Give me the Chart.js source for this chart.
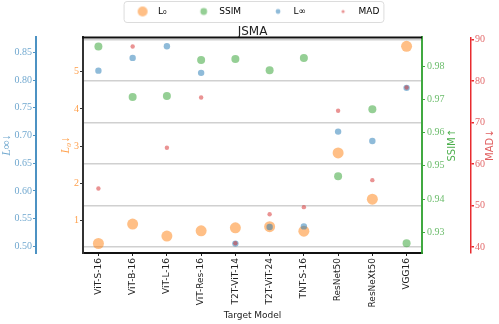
<!DOCTYPE html>
<html>
<head>
<meta charset="utf-8">
<script src="https://cdn.jsdelivr.net/npm/chart.js@4.4.0/dist/chart.umd.min.js"></script>
<style>
  html, body { margin: 0; padding: 0; background: #fff; }
</style>
</head>
<body>
<canvas id="myChart" width="499" height="324"></canvas>
<script>
// target models (x axis)
const models = ['ViT-S-16', 'ViT-B-16', 'ViT-L-16', 'ViT-Res-16', 'T2T-ViT-14',
  'T2T-ViT-24', 'TNT-S-16', 'ResNet50', 'ResNeXt50', 'VGG16'];

// values, one list per metric
const l0Vals   = [0.39, 0.91, 0.59, 0.73, 0.81, 0.84, 0.72, 2.82, 1.58, 5.68];
const ssimVals = [0.9859, 0.9707, 0.9710, 0.9818, 0.9821, 0.9787, 0.9824, 0.9469, 0.9670, 0.9267];
const linfVals = [0.817, 0.840, 0.861, 0.813, 0.505, 0.535, 0.536, 0.707, 0.690, 0.786];
const madVals  = [54.1, 88.3, 63.9, 76.0, 40.9, 47.9, 49.6, 72.8, 56.1, 78.4];

// tick labels per axis
const l0Ticks   = [1, 2, 3, 4, 5];
const linfTicks = [0.50, 0.55, 0.60, 0.65, 0.70, 0.75, 0.80, 0.85];
const ssimTicks = [0.93, 0.94, 0.95, 0.96, 0.97, 0.98];
const madTicks  = [40, 50, 60, 70, 80, 90];

Chart.defaults.font.family = "'DejaVu Sans', sans-serif";

const toPoints = vals => vals.map((v, i) => ({ x: i, y: v }));
const fixedTicks = list => scale => { scale.ticks = list.map(v => ({ value: v })); };

const numFont = { family: "'Liberation Serif', serif", size: 10 };
const mathFont = { family: "'Liberation Serif', 'DejaVu Serif', serif", style: 'italic', size: 12 };

// little dots for the legend, drawn at the right of a wide box
function legendDot(color, r) {
  const c = document.createElement('canvas');
  c.width = 44; c.height = 14;
  const g = c.getContext('2d');
  g.fillStyle = color;
  g.beginPath();
  g.arc(33, 7, r, 0, Math.PI * 2);
  g.fill();
  return c;
}

const colors = {
  l0: 'rgba(255,127,14,0.5)',
  ssim: 'rgba(44,160,44,0.5)',
  linf: 'rgba(31,119,180,0.5)',
  mad: 'rgba(214,39,40,0.5)'
};
const legendDots = [
  legendDot(colors.l0, 5),
  legendDot(colors.ssim, 3.4),
  legendDot(colors.linf, 2.4),
  legendDot(colors.mad, 1.6)
];

// top spine + legend frame
const framePlugin = {
  id: 'framePlugin',
  afterDraw(chart) {
    const ctx = chart.ctx, a = chart.chartArea;
    ctx.save();
    ctx.strokeStyle = '#111';
    ctx.lineWidth = 2;
    ctx.beginPath();
    ctx.moveTo(a.left - 1, a.top);
    ctx.lineTo(a.right, a.top);
    ctx.stroke();

    const hb = chart.legend.legendHitBoxes;
    if (hb && hb.length) {
      const first = hb[0], last = hb[hb.length - 1];
      const x0 = first.left + 14, x1 = last.left + last.width + 4;
      const y0 = first.top - 6, y1 = first.top + first.height + 6;
      ctx.strokeStyle = '#dcdcdc';
      ctx.lineWidth = 1;
      ctx.beginPath();
      if (ctx.roundRect) ctx.roundRect(x0 + 0.5, y0 + 0.5, x1 - x0, y1 - y0, 3);
      else ctx.rect(x0 + 0.5, y0 + 0.5, x1 - x0, y1 - y0);
      ctx.stroke();
    }
    ctx.restore();
  }
};

// right hand titles read bottom-to-top like the left ones
const sideTitles = {
  id: 'sideTitles',
  afterDraw(chart) {
    const ctx = chart.ctx, a = chart.chartArea;
    [['ySsim', 30], ['yMad', 19]].forEach(([id, off]) => {
      const s = chart.scales[id];
      const t = s.options.title;
      ctx.save();
      ctx.translate(s.left + off, (a.top + a.bottom) / 2);
      ctx.rotate(-Math.PI / 2);
      ctx.fillStyle = t.color;
      ctx.font = "10px 'DejaVu Sans', sans-serif";
      ctx.textAlign = 'center';
      ctx.textBaseline = 'middle';
      ctx.fillText(t.text, 0, 0);
      ctx.restore();
    });
  }
};

const ctx = document.getElementById('myChart');

new Chart(ctx, {
  type: 'scatter',
  data: {
    datasets: [
      { label: 'L₀', data: toPoints(l0Vals), yAxisID: 'yL0', backgroundColor: colors.l0,
        pointRadius: 5.5, pointHoverRadius: 5.5, borderWidth: 0, order: 4 },
      { label: 'SSIM', data: toPoints(ssimVals), yAxisID: 'ySsim', backgroundColor: colors.ssim,
        pointRadius: 4, pointHoverRadius: 4, borderWidth: 0, order: 3 },
      { label: 'L∞', data: toPoints(linfVals), yAxisID: 'yLinf', backgroundColor: colors.linf,
        pointRadius: 3.2, pointHoverRadius: 3.2, borderWidth: 0, order: 2 },
      { label: 'MAD', data: toPoints(madVals), yAxisID: 'yMad', backgroundColor: colors.mad,
        pointRadius: 2.2, pointHoverRadius: 2.2, borderWidth: 0, order: 1 }
    ]
  },
  options: {
    responsive: false,
    animation: false,
    devicePixelRatio: 1,
    layout: { padding: { top: 3, left: 0, right: 10, bottom: 0 } },
    plugins: {
      tooltip: { enabled: false },
      title: {
        display: true,
        text: 'JSMA',
        fullSize: false,
        weight: 500,
        color: '#222',
        font: { size: 12, weight: 'normal', lineHeight: 0.95 },
        padding: { top: 0, bottom: 0 }
      },
      legend: {
        position: 'top',
        onClick: null,
        labels: {
          usePointStyle: true,
          pointStyleWidth: 44,
          padding: 4,
          color: '#222',
          font: { size: 9 },
          generateLabels: chart => chart.data.datasets.map((ds, i) => ({
            text: ds.label,
            pointStyle: legendDots[i],
            fillStyle: ds.backgroundColor,
            strokeStyle: 'rgba(0,0,0,0)',
            lineWidth: 0,
            hidden: false,
            datasetIndex: i
          }))
        }
      }
    },
    scales: {
      x: {
        type: 'linear',
        min: -0.45,
        max: 9.45,
        afterBuildTicks: scale => { scale.ticks = models.map((m, i) => ({ value: i })); },
        afterFit: scale => { scale.height = 71; },
        ticks: {
          callback: v => models[v],
          minRotation: 90,
          maxRotation: 90,
          autoSkip: false,
          padding: 2,
          color: '#222',
          font: { size: 9 }
        },
        grid: { drawOnChartArea: false, tickLength: 3, tickColor: '#222' },
        border: { color: '#111', width: 2 },
        title: { display: true, text: 'Target Model', color: '#222', font: { size: 9 },
          padding: { top: 0, bottom: 3 } }
      },
      yLinf: {
        type: 'linear',
        position: 'left',
        weight: 1,
        min: 0.488,
        max: 0.877,
        afterBuildTicks: fixedTicks(linfTicks),
        afterFit: scale => { scale.width = 36; },
        ticks: { callback: v => v.toFixed(2), color: 'rgba(31,119,180,0.65)', font: numFont, padding: 1 },
        grid: { drawOnChartArea: false, tickLength: 3, tickColor: 'rgba(31,119,180,0.8)' },
        border: { color: 'rgba(31,119,180,0.8)', width: 2 },
        title: { display: true, text: 'L∞↓', color: 'rgba(31,119,180,0.65)', font: mathFont,
          padding: { top: 0, bottom: 0 } }
      },
      yL0: {
        type: 'linear',
        position: 'left',
        weight: 0,
        min: 0.135,
        max: 5.92,
        afterBuildTicks: fixedTicks(l0Ticks),
        afterFit: scale => { scale.width = 47; },
        ticks: { color: 'rgba(255,127,14,0.75)', font: numFont, padding: 1 },
        grid: { drawOnChartArea: false, tickLength: 3, tickColor: '#333' },
        border: { color: '#333', width: 2 },
        title: { display: true, text: 'L₀↓', color: 'rgba(255,127,14,0.75)', font: mathFont,
          padding: { top: 23, bottom: 0 } }
      },
      ySsim: {
        type: 'linear',
        position: 'right',
        weight: 0,
        min: 0.9238,
        max: 0.9886,
        afterBuildTicks: fixedTicks(ssimTicks),
        afterFit: scale => { scale.width = 49; },
        ticks: { callback: v => v.toFixed(2), color: 'rgba(44,160,44,0.7)', font: numFont, padding: 2 },
        grid: { drawOnChartArea: false, tickLength: 3, tickColor: 'rgba(44,160,44,0.9)' },
        border: { color: 'rgba(44,160,44,0.9)', width: 2 },
        title: { display: false, text: 'SSIM↑', color: 'rgba(44,160,44,0.85)' }
      },
      yMad: {
        type: 'linear',
        position: 'right',
        weight: 1,
        min: 38.56,
        max: 90.48,
        afterBuildTicks: fixedTicks(madTicks),
        afterFit: scale => { scale.width = 18; },
        ticks: { color: 'rgba(214,39,40,0.7)', font: numFont, padding: 1 },
        grid: { color: '#d0d0d0', lineWidth: 1.5, tickLength: 3, tickColor: 'rgba(230,20,25,0.9)' },
        border: { color: 'rgba(230,20,25,0.9)', width: 1.5 },
        title: { display: false, text: 'MAD↓', color: 'rgba(214,39,40,0.75)' }
      }
    }
  },
  plugins: [framePlugin, sideTitles]
});
</script>
</body>
</html>
